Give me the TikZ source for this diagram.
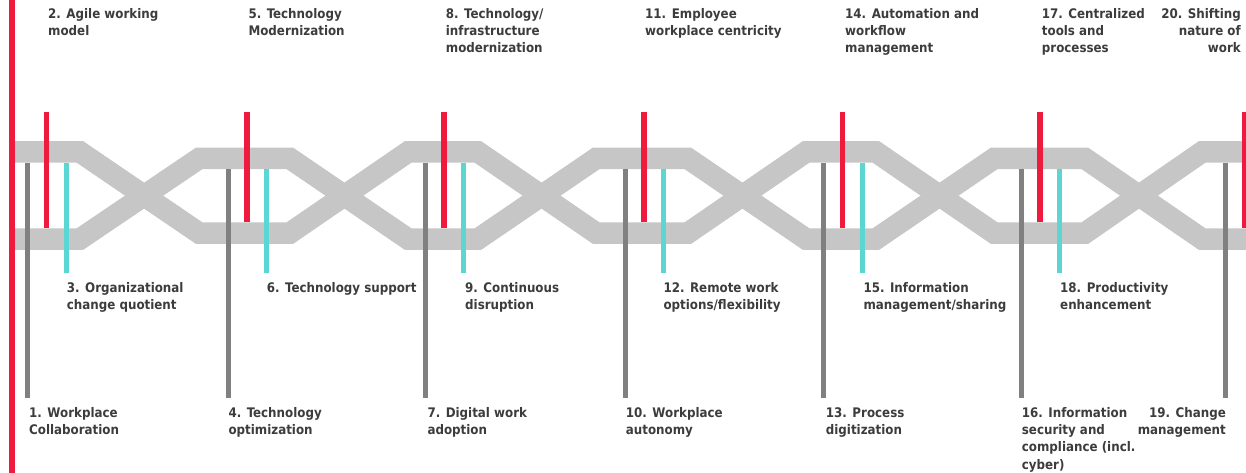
\documentclass[tikz,border=0pt]{standalone}
\usepackage{fontspec}
\newfontfamily\lblfont{DejaVu Sans Condensed Bold}
\definecolor{bandgray}{HTML}{C6C6C6}
\definecolor{barred}{HTML}{EE1B3E}
\definecolor{barcyan}{HTML}{5CD6D2}
\definecolor{bargray}{HTML}{808080}
\definecolor{txt}{HTML}{3C3C3C}
\begin{document}
\begin{tikzpicture}[x=1pt,y=-1pt,
  strand/.style={draw=bandgray,line width=21.5pt,line join=miter},
  redbar/.style={draw=barred,line width=5.5pt},
  cyanbar/.style={draw=barcyan,line width=5pt},
  graybar/.style={draw=bargray,line width=5pt},
  lbl/.style={font=\lblfont\fontsize{13.2}{17.3}\selectfont,text=txt,inner sep=0pt,align=left,anchor=base west},
  lblr/.style={lbl,align=right,anchor=base east}]
\useasboundingbox (0,0) rectangle (1246,473);
% braided band
\draw[strand] (12,152) -- (80,152) -- (199,233) -- (290,233) -- (408,152) -- (478,152) -- (596,233) -- (688,233) -- (806,152) -- (876,152) -- (994,233) -- (1085,233) -- (1202,152) -- (1246,152);
\draw[strand] (12,239) -- (80,239) -- (199,158.5) -- (290,158.5) -- (408,239) -- (478,239) -- (596,158.5) -- (688,158.5) -- (806,239) -- (876,239) -- (994,158.5) -- (1085,158.5) -- (1202,239) -- (1246,239);
% vertical bars
\foreach \g/\t/\b in {27.5/162.75/228.25, 228/169.25/222.25, 425/162.75/228.25, 625/169.25/222.25, 823.7/162.75/228.25, 1021/169.25/222.25}{
  \draw[graybar] (\g,\t) -- (\g,398);
  \draw[redbar] (\g+19,112) -- (\g+19,\b);
  \draw[cyanbar] (\g+38.5,\t) -- (\g+38.5,273);
}
\draw[graybar] (1225,162.75) -- (1225,398);
\draw[redbar] (1244.5,112) -- (1244.5,228.25);
% left red rule
\draw[draw=barred,line width=6pt] (12,0) -- (12,473);
% top labels (anchor = baseline of last line)
\node[lbl] (l2) at (48,35.6) {2. Agile working\\model};
\node[lbl] (l5) at (248.3,35.6) {5. Technology\\Modernization};
\node[lbl] (l8) at (445.7,52.9) {8. Technology/\\infrastructure\\modernization};
\node[lbl] (l11) at (645,35.6) {11. Employee\\workplace centricity};
\node[lbl] (l14) at (845,52.9) {14. Automation and\\workflow\\management};
\node[lbl] (l17) at (1041.7,52.9) {17. Centralized\\tools and\\processes};
\node[lblr] (l20) at (1241,52.9) {20. Shifting\\nature of\\work};
% middle labels
\node[lbl] (l3) at (66.7,309.3) {3. Organizational\\change quotient};
\node[lbl] (l6) at (266.7,292) {6. Technology support};
\node[lbl] (l9) at (465,309.3) {9. Continuous\\disruption};
\node[lbl] (l12) at (663.3,309.3) {12. Remote work\\options/flexibility};
\node[lbl] (l15) at (863.3,309.3) {15. Information\\management/sharing};
\node[lbl] (l18) at (1060,309.3) {18. Productivity\\enhancement};
% bottom labels
\node[lbl] (l1) at (29,434.3) {1. Workplace\\Collaboration};
\node[lbl] (l4) at (228.3,434.3) {4. Technology\\optimization};
\node[lbl] (l7) at (427.3,434.3) {7. Digital work\\adoption};
\node[lbl] (l10) at (625.7,434.3) {10. Workplace\\autonomy};
\node[lbl] (l13) at (825.7,434.3) {13. Process\\digitization};
\node[lbl] (l16) at (1021.7,469.2) {16. Information\\security and\\compliance (incl.\\cyber)};
\node[lblr] (l19) at (1226,434.3) {19. Change\\management};
\end{tikzpicture}
\end{document}
